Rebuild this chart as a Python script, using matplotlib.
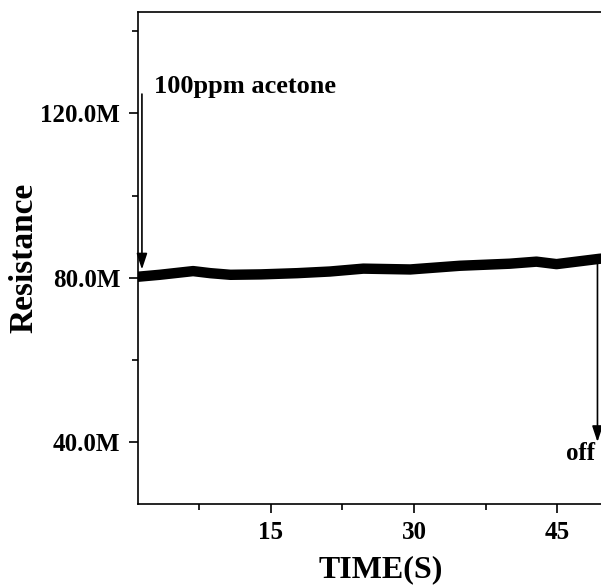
import matplotlib
matplotlib.use("Agg")
import matplotlib.pyplot as plt
from matplotlib.ticker import MultipleLocator, FuncFormatter

# data (time in s, resistance in MOhm)
time_s = [1.0, 3.4, 6.9, 8.7, 10.8, 14.0, 17.8, 21.2, 24.7, 29.6, 34.8, 40.0, 42.8, 44.9, 49.4, 50.5]
resistance_m = [80.2, 80.7, 81.6, 81.1, 80.7, 80.8, 81.1, 81.5, 82.2, 82.0, 82.9, 83.4, 83.9, 83.3, 84.6, 84.8]

on_label = "100ppm acetone"
off_label = "off"
on_time, on_top, on_tip = 1.55, 124.7, 82.0
off_time, off_top, off_tip = 49.18, 85.5, 40.0

plt.rcParams["font.family"] = ["Liberation Serif", "DejaVu Serif"]
plt.rcParams["font.weight"] = "bold"

fig = plt.figure(figsize=(6.01, 5.87), dpi=100)
ax = fig.add_axes([0.229, 0.1414, 0.81, 0.8376])

ax.plot(time_s, resistance_m, color="black", linewidth=7.5, solid_capstyle="butt")

ax.annotate("", xy=(on_time, on_tip), xytext=(on_time, on_top),
            arrowprops=dict(arrowstyle="-|>,head_length=0.6,head_width=0.2", color="black", lw=1.2,
                            mutation_scale=16, shrinkA=0, shrinkB=0))
ax.text(2.8, 126.5, on_label, fontsize=19, fontweight="bold", ha="left", va="center")

ax.annotate("", xy=(off_time, off_tip), xytext=(off_time, off_top),
            arrowprops=dict(arrowstyle="-|>,head_length=0.6,head_width=0.2", color="black", lw=1.2,
                            mutation_scale=16, shrinkA=0, shrinkB=0))
ax.text(48.9, 37.3, off_label, fontsize=18, fontweight="bold", ha="right", va="center")

ax.set_xlim(1.1, 52)
ax.set_ylim(24.9, 144.6)
ax.xaxis.set_major_locator(MultipleLocator(15))
ax.xaxis.set_minor_locator(MultipleLocator(7.5))
ax.yaxis.set_major_locator(MultipleLocator(40))
ax.yaxis.set_minor_locator(MultipleLocator(20))
ax.yaxis.set_major_formatter(FuncFormatter(lambda v, p: f"{v:.1f}M"))

ax.tick_params(which="major", direction="out", length=6.5, width=1.2, labelsize=18, pad=6)
ax.tick_params(which="minor", direction="out", length=4.5, width=1.2)
ax.tick_params(top=False, right=False)
for s in ax.spines.values():
    s.set_linewidth(1.2)
ax.spines["right"].set_visible(False)

for lab in ax.get_xticklabels() + ax.get_yticklabels():
    lab.set_fontweight("bold")

ax.set_xlabel("TIME(S)", fontsize=23, fontweight="bold", labelpad=8)
ax.set_ylabel("Resistance", fontsize=24, fontweight="bold", labelpad=1)

fig.savefig("out.png", dpi=100)
